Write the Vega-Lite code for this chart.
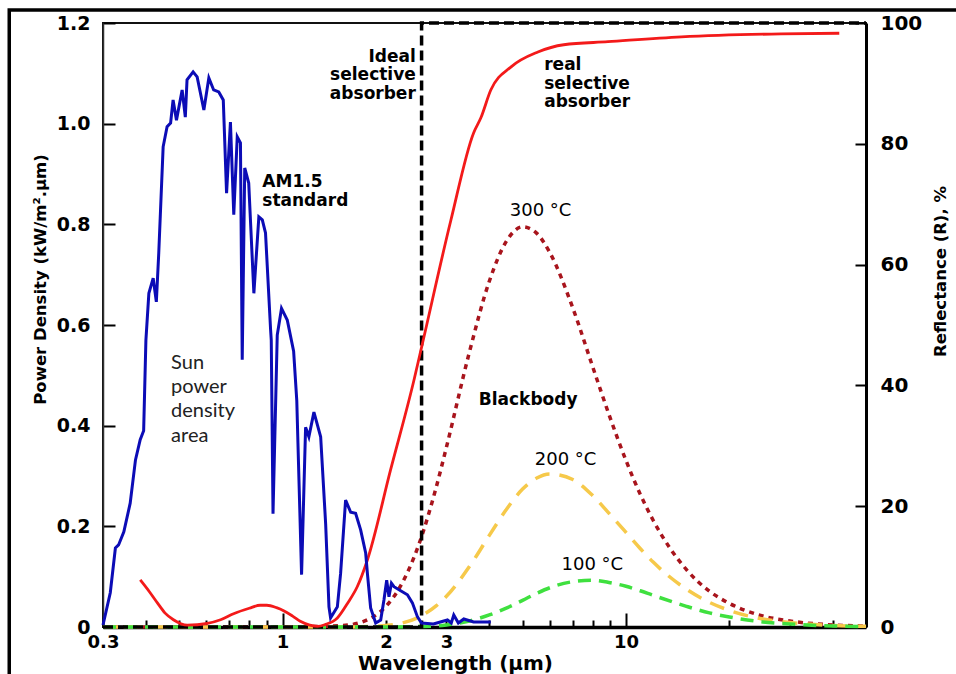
{
  "$schema": "https://vega.github.io/schema/vega-lite/v6.json",
  "width": 763,
  "height": 604,
  "autosize": {"type": "none"},
  "padding": {"left": 103, "top": 23, "right": 90, "bottom": 47},
  "background": "white",
  "config": {
    "view": {"stroke": "#111", "strokeWidth": 2},
    "axis": {"grid": false}
  },
  "datasets": {
    "frame": [{"x1": 0.16, "x2": 200, "y1": 1.226, "y2": -0.3}],
    "sun": [
      {"w": 0.3, "v": 0.004}, {"w": 0.315, "v": 0.068}, {"w": 0.326, "v": 0.157}, {"w": 0.333, "v": 0.163},
      {"w": 0.345, "v": 0.189}, {"w": 0.36, "v": 0.246}, {"w": 0.373, "v": 0.332}, {"w": 0.385, "v": 0.372},
      {"w": 0.394, "v": 0.39}, {"w": 0.4, "v": 0.57}, {"w": 0.408, "v": 0.663}, {"w": 0.42, "v": 0.693},
      {"w": 0.429, "v": 0.646}, {"w": 0.436, "v": 0.743}, {"w": 0.449, "v": 0.954}, {"w": 0.461, "v": 0.994},
      {"w": 0.472, "v": 1.001}, {"w": 0.48, "v": 1.047}, {"w": 0.491, "v": 1.007}, {"w": 0.51, "v": 1.067},
      {"w": 0.521, "v": 1.013}, {"w": 0.527, "v": 1.087}, {"w": 0.549, "v": 1.103}, {"w": 0.564, "v": 1.093},
      {"w": 0.59, "v": 1.027}, {"w": 0.61, "v": 1.091}, {"w": 0.63, "v": 1.067}, {"w": 0.652, "v": 1.063},
      {"w": 0.672, "v": 1.047}, {"w": 0.687, "v": 0.862}, {"w": 0.705, "v": 1.003}, {"w": 0.721, "v": 0.819},
      {"w": 0.738, "v": 0.974}, {"w": 0.754, "v": 0.962}, {"w": 0.763, "v": 0.531}, {"w": 0.776, "v": 0.912},
      {"w": 0.797, "v": 0.882}, {"w": 0.825, "v": 0.663}, {"w": 0.853, "v": 0.815}, {"w": 0.873, "v": 0.809},
      {"w": 0.892, "v": 0.783}, {"w": 0.923, "v": 0.59}, {"w": 0.927, "v": 0.57}, {"w": 0.938, "v": 0.225},
      {"w": 0.965, "v": 0.58}, {"w": 0.993, "v": 0.633}, {"w": 1.032, "v": 0.61}, {"w": 1.077, "v": 0.548},
      {"w": 1.1, "v": 0.45}, {"w": 1.136, "v": 0.104}, {"w": 1.167, "v": 0.397}, {"w": 1.193, "v": 0.378},
      {"w": 1.234, "v": 0.427}, {"w": 1.291, "v": 0.378}, {"w": 1.335, "v": 0.205}, {"w": 1.365, "v": 0.04},
      {"w": 1.38, "v": 0.018}, {"w": 1.444, "v": 0.04}, {"w": 1.476, "v": 0.107}, {"w": 1.526, "v": 0.252},
      {"w": 1.579, "v": 0.228}, {"w": 1.632, "v": 0.226}, {"w": 1.688, "v": 0.193}, {"w": 1.746, "v": 0.147},
      {"w": 1.766, "v": 0.107}, {"w": 1.805, "v": 0.038}, {"w": 1.867, "v": 0.008}, {"w": 1.931, "v": 0.014},
      {"w": 1.974, "v": 0.054}, {"w": 2.01, "v": 0.093}, {"w": 2.041, "v": 0.06}, {"w": 2.075, "v": 0.087},
      {"w": 2.111, "v": 0.08}, {"w": 2.183, "v": 0.074}, {"w": 2.31, "v": 0.064}, {"w": 2.388, "v": 0.048},
      {"w": 2.471, "v": 0.02}, {"w": 2.538, "v": 0.008}, {"w": 2.75, "v": 0.006}, {"w": 3.021, "v": 0.014},
      {"w": 3.1, "v": 0.008}, {"w": 3.152, "v": 0.024}, {"w": 3.25, "v": 0.008}, {"w": 3.371, "v": 0.016},
      {"w": 3.6, "v": 0.01}, {"w": 4.041, "v": 0.01}
    ],
    "real": [
      {"w": 0.385, "r": 7.8}, {"w": 0.41, "r": 5.8}, {"w": 0.432, "r": 4.0}, {"w": 0.455, "r": 2.3},
      {"w": 0.481, "r": 1.2}, {"w": 0.528, "r": 0.3}, {"w": 0.604, "r": 0.6}, {"w": 0.66, "r": 1.2},
      {"w": 0.72, "r": 2.2}, {"w": 0.8, "r": 3.1}, {"w": 0.86, "r": 3.6}, {"w": 0.9, "r": 3.6},
      {"w": 0.96, "r": 3.2}, {"w": 1.007, "r": 2.7}, {"w": 1.07, "r": 1.8}, {"w": 1.13, "r": 0.9},
      {"w": 1.2, "r": 0.3}, {"w": 1.265, "r": 0.1}, {"w": 1.33, "r": 0.4}, {"w": 1.444, "r": 1.5},
      {"w": 1.545, "r": 3.9}, {"w": 1.651, "r": 6.7}, {"w": 1.766, "r": 11.1}, {"w": 2.063, "r": 26.0},
      {"w": 2.414, "r": 40.9}, {"w": 2.556, "r": 47.0}, {"w": 3.09, "r": 67.3}, {"w": 3.6, "r": 81.8},
      {"w": 3.78, "r": 84.3}, {"w": 4.04, "r": 88.9}, {"w": 4.62, "r": 92.7}, {"w": 5.54, "r": 95.2},
      {"w": 6.59, "r": 96.4}, {"w": 8.86, "r": 96.9}, {"w": 14.5, "r": 97.7}, {"w": 28.3, "r": 98.2},
      {"w": 41.8, "r": 98.3}
    ],
    "ideal": [
      {"i": 1, "w": 0.3, "r": 0}, {"i": 2, "w": 2.54, "r": 0}, {"i": 3, "w": 2.54, "r": 100}, {"i": 4, "w": 50, "r": 100}
    ],
    "bb": [
      {"T": "300", "w": 0.3, "v": 0}, {"T": "300", "w": 1, "v": 0}, {"T": "300", "w": 1.5, "v": 0.003},
      {"T": "300", "w": 1.8, "v": 0.017}, {"T": "300", "w": 2, "v": 0.041}, {"T": "300", "w": 2.2, "v": 0.08},
      {"T": "300", "w": 2.5, "v": 0.166}, {"T": "300", "w": 2.8, "v": 0.277}, {"T": "300", "w": 3, "v": 0.357},
      {"T": "300", "w": 3.5, "v": 0.546}, {"T": "300", "w": 4, "v": 0.687}, {"T": "300", "w": 4.5, "v": 0.768},
      {"T": "300", "w": 5, "v": 0.795}, {"T": "300", "w": 5.5, "v": 0.782}, {"T": "300", "w": 6, "v": 0.744},
      {"T": "300", "w": 7, "v": 0.634}, {"T": "300", "w": 8, "v": 0.517}, {"T": "300", "w": 9, "v": 0.415},
      {"T": "300", "w": 10, "v": 0.331}, {"T": "300", "w": 11, "v": 0.264}, {"T": "300", "w": 12, "v": 0.212},
      {"T": "300", "w": 15, "v": 0.114}, {"T": "300", "w": 17.5, "v": 0.071}, {"T": "300", "w": 20, "v": 0.047},
      {"T": "300", "w": 25, "v": 0.022}, {"T": "300", "w": 30, "v": 0.012}, {"T": "300", "w": 40, "v": 0.004},
      {"T": "300", "w": 50, "v": 0.002},
      {"T": "200", "w": 0.3, "v": 0}, {"T": "200", "w": 1, "v": 0}, {"T": "200", "w": 1.5, "v": 0},
      {"T": "200", "w": 1.8, "v": 0.001}, {"T": "200", "w": 2, "v": 0.003}, {"T": "200", "w": 2.2, "v": 0.007},
      {"T": "200", "w": 2.5, "v": 0.02}, {"T": "200", "w": 2.8, "v": 0.042}, {"T": "200", "w": 3, "v": 0.061},
      {"T": "200", "w": 3.5, "v": 0.12}, {"T": "200", "w": 4, "v": 0.182}, {"T": "200", "w": 4.5, "v": 0.235},
      {"T": "200", "w": 5, "v": 0.274}, {"T": "200", "w": 5.5, "v": 0.296}, {"T": "200", "w": 6, "v": 0.304},
      {"T": "200", "w": 7, "v": 0.293}, {"T": "200", "w": 8, "v": 0.261}, {"T": "200", "w": 9, "v": 0.223},
      {"T": "200", "w": 10, "v": 0.188}, {"T": "200", "w": 11, "v": 0.156}, {"T": "200", "w": 12, "v": 0.129},
      {"T": "200", "w": 15, "v": 0.075}, {"T": "200", "w": 17.5, "v": 0.049}, {"T": "200", "w": 20, "v": 0.033},
      {"T": "200", "w": 25, "v": 0.016}, {"T": "200", "w": 30, "v": 0.009}, {"T": "200", "w": 40, "v": 0.003},
      {"T": "200", "w": 50, "v": 0.0014},
      {"T": "100", "w": 0.3, "v": 0}, {"T": "100", "w": 1, "v": 0}, {"T": "100", "w": 2, "v": 0},
      {"T": "100", "w": 2.5, "v": 0.001}, {"T": "100", "w": 2.8, "v": 0.002}, {"T": "100", "w": 3, "v": 0.004},
      {"T": "100", "w": 3.5, "v": 0.012}, {"T": "100", "w": 4, "v": 0.024}, {"T": "100", "w": 4.5, "v": 0.038},
      {"T": "100", "w": 5, "v": 0.053}, {"T": "100", "w": 5.5, "v": 0.067}, {"T": "100", "w": 6, "v": 0.078},
      {"T": "100", "w": 7, "v": 0.09}, {"T": "100", "w": 8, "v": 0.093}, {"T": "100", "w": 9, "v": 0.088},
      {"T": "100", "w": 10, "v": 0.081}, {"T": "100", "w": 11, "v": 0.072}, {"T": "100", "w": 12, "v": 0.063},
      {"T": "100", "w": 15, "v": 0.041}, {"T": "100", "w": 17.5, "v": 0.028}, {"T": "100", "w": 20, "v": 0.02},
      {"T": "100", "w": 25, "v": 0.01}, {"T": "100", "w": 30, "v": 0.006}, {"T": "100", "w": 40, "v": 0.002},
      {"T": "100", "w": 50, "v": 0.001}
    ],
    "notesLeft": [
      {"w": 5.78, "v": 1.132, "t": "real\nselective\nabsorber"},
      {"w": 0.873, "v": 0.9, "t": "AM1.5\nstandard"},
      {"w": 3.727, "v": 0.466, "t": "Blackbody"}
    ],
    "notesRight": [
      {"w": 2.443, "v": 1.1484, "t": "Ideal\nselective\nabsorber"}
    ],
    "notesTemp": [
      {"w": 5.64, "v": 0.8444, "t": "300 °C"},
      {"w": 6.67, "v": 0.3503, "t": "200 °C"},
      {"w": 7.98, "v": 0.1405, "t": "100 °C"}
    ],
    "notesSun": [
      {"w": 0.4736, "v": 0.545, "t": "Sun\npower\ndensity\narea"}
    ]
  },
  "layer": [
    {
      "data": {"name": "frame"},
      "mark": {"type": "rect", "fill": null, "stroke": "black", "strokeWidth": 3.5, "clip": false},
      "encoding": {
        "x": {"field": "x1", "type": "quantitative", "scale": {"type": "log", "domain": [0.3, 50], "nice": false}, "axis": null},
        "x2": {"field": "x2"},
        "y": {"field": "y1", "type": "quantitative", "scale": {"domain": [0, 1.2], "nice": false}, "axis": null},
        "y2": {"field": "y2"}
      }
    },
    {
      "data": {"name": "bb"},
      "mark": {"type": "line", "interpolate": "monotone", "strokeWidth": 3.5},
      "encoding": {
        "x": {"field": "w", "type": "quantitative", "scale": {"type": "log", "domain": [0.3, 50], "nice": false}, "axis": null},
        "y": {"field": "v", "type": "quantitative", "scale": {"domain": [0, 1.2], "nice": false}, "axis": null},
        "color": {"field": "T", "type": "nominal", "scale": {"domain": ["300", "200", "100"], "range": ["#a8141c", "#f6c94a", "#3fe03f"]}, "legend": null},
        "strokeDash": {"field": "T", "type": "nominal", "scale": {"domain": ["300", "200", "100"], "range": [[5, 5], [15, 10], [13, 8]]}, "legend": null}
      }
    },
    {
      "data": {"name": "ideal"},
      "mark": {"type": "line", "color": "black", "strokeWidth": 3.5, "strokeDash": [10, 5]},
      "encoding": {
        "x": {"field": "w", "type": "quantitative", "scale": {"type": "log", "domain": [0.3, 50], "nice": false}, "axis": null},
        "y": {"field": "r", "type": "quantitative", "scale": {"domain": [0, 100], "nice": false}, "axis": null},
        "order": {"field": "i", "type": "quantitative"}
      }
    },
    {
      "data": {"name": "real"},
      "mark": {"type": "line", "color": "#f31a1a", "strokeWidth": 2.8, "interpolate": "monotone"},
      "encoding": {
        "x": {"field": "w", "type": "quantitative", "scale": {"type": "log", "domain": [0.3, 50], "nice": false}, "axis": null},
        "y": {
          "field": "r", "type": "quantitative",
          "scale": {"domain": [0, 100], "nice": false},
          "axis": {
            "orient": "right", "values": [0, 20, 40, 60, 80, 100],
            "tickSize": -11, "tickWidth": 2, "tickColor": "black",
            "domainColor": "black", "domainWidth": 3,
            "labelFont": "DejaVu Sans", "labelFontWeight": "bold", "labelFontSize": 20, "labelColor": "black",
            "labelPadding": 25, "labelFlush": false, "labelOverlap": false,
            "title": "Reflectance (R), %",
            "titleFont": "DejaVu Sans", "titleFontWeight": "bold", "titleFontSize": 16.5, "titleColor": "black",
            "titleAngle": 270, "titleX": 74, "titleY": 248, "titleAlign": "center", "titleBaseline": "middle"
          }
        }
      }
    },
    {
      "data": {"name": "sun"},
      "mark": {"type": "line", "color": "#0c0cb6", "strokeWidth": 3},
      "encoding": {
        "x": {
          "field": "w", "type": "quantitative",
          "scale": {"type": "log", "domain": [0.3, 50], "nice": false},
          "axis": {
            "orient": "bottom",
            "values": [0.3, 0.4, 0.5, 0.6, 0.7, 0.8, 0.9, 1, 2, 3, 4, 5, 6, 7, 8, 9, 10, 20, 30, 40],
            "labelExpr": "indexof([0.3, 1, 2, 3, 10], datum.value) >= 0 ? '' + datum.value : ''",
            "tickSize": {"condition": {"test": "datum.value == 1 || datum.value == 10", "value": -14}, "value": -7},
            "tickWidth": 2, "tickColor": "black",
            "domainColor": "black", "domainWidth": 3.5,
            "labelFont": "DejaVu Sans", "labelFontWeight": "bold", "labelFontSize": 18, "labelColor": "black",
            "labelPadding": {"condition": {"test": "datum.value == 1 || datum.value == 10", "value": 20.5}, "value": 13.5},
            "labelFlush": false, "labelOverlap": false,
            "title": "Wavelength (μm)",
            "titleFont": "DejaVu Sans", "titleFontWeight": "bold", "titleFontSize": 20, "titleColor": "black",
            "titleX": 352, "titleY": 36, "titleAlign": "center", "titleBaseline": "middle"
          }
        },
        "y": {
          "field": "v", "type": "quantitative",
          "scale": {"domain": [0, 1.2], "nice": false},
          "axis": {
            "orient": "left", "values": [0, 0.2, 0.4, 0.6, 0.8, 1.0, 1.2],
            "labelExpr": "datum.value == 0 ? '0' : format(datum.value, '.1f')",
            "tickSize": -12, "tickWidth": 2, "tickColor": "black",
            "domainColor": "#333", "domainWidth": 1.5,
            "labelFont": "DejaVu Sans", "labelFontWeight": "bold", "labelFontSize": 19, "labelColor": "black",
            "labelPadding": 25, "labelFlush": false, "labelOverlap": false,
            "title": "Power Density (kW/m².μm)",
            "titleFont": "DejaVu Sans", "titleFontWeight": "bold", "titleFontSize": 16.5, "titleColor": "black",
            "titleAngle": 270, "titleX": -63, "titleY": 256, "titleAlign": "center", "titleBaseline": "middle"
          }
        }
      }
    },
    {
      "data": {"name": "notesLeft"},
      "mark": {"type": "text", "align": "left", "baseline": "top", "font": "DejaVu Sans", "fontWeight": "bold", "fontSize": 17, "lineHeight": 18.5, "lineBreak": "\n", "color": "black"},
      "encoding": {
        "x": {"field": "w", "type": "quantitative", "scale": {"type": "log", "domain": [0.3, 50], "nice": false}, "axis": null},
        "y": {"field": "v", "type": "quantitative", "scale": {"domain": [0, 1.2], "nice": false}, "axis": null},
        "text": {"field": "t"}
      }
    },
    {
      "data": {"name": "notesRight"},
      "mark": {"type": "text", "align": "right", "baseline": "top", "font": "DejaVu Sans", "fontWeight": "bold", "fontSize": 17, "lineHeight": 18.5, "lineBreak": "\n", "color": "black"},
      "encoding": {
        "x": {"field": "w", "type": "quantitative", "scale": {"type": "log", "domain": [0.3, 50], "nice": false}, "axis": null},
        "y": {"field": "v", "type": "quantitative", "scale": {"domain": [0, 1.2], "nice": false}, "axis": null},
        "text": {"field": "t"}
      }
    },
    {
      "data": {"name": "notesTemp"},
      "mark": {"type": "text", "align": "center", "baseline": "top", "font": "DejaVu Sans", "fontSize": 18, "color": "black"},
      "encoding": {
        "x": {"field": "w", "type": "quantitative", "scale": {"type": "log", "domain": [0.3, 50], "nice": false}, "axis": null},
        "y": {"field": "v", "type": "quantitative", "scale": {"domain": [0, 1.2], "nice": false}, "axis": null},
        "text": {"field": "t"}
      }
    },
    {
      "data": {"name": "notesSun"},
      "mark": {"type": "text", "align": "left", "baseline": "top", "font": "Lato", "fontSize": 20, "lineHeight": 24.3, "lineBreak": "\n", "color": "#222"},
      "encoding": {
        "x": {"field": "w", "type": "quantitative", "scale": {"type": "log", "domain": [0.3, 50], "nice": false}, "axis": null},
        "y": {"field": "v", "type": "quantitative", "scale": {"domain": [0, 1.2], "nice": false}, "axis": null},
        "text": {"field": "t"}
      }
    }
  ],
  "resolve": {"scale": {"y": "independent"}, "axis": {"x": "independent", "y": "independent"}}
}
